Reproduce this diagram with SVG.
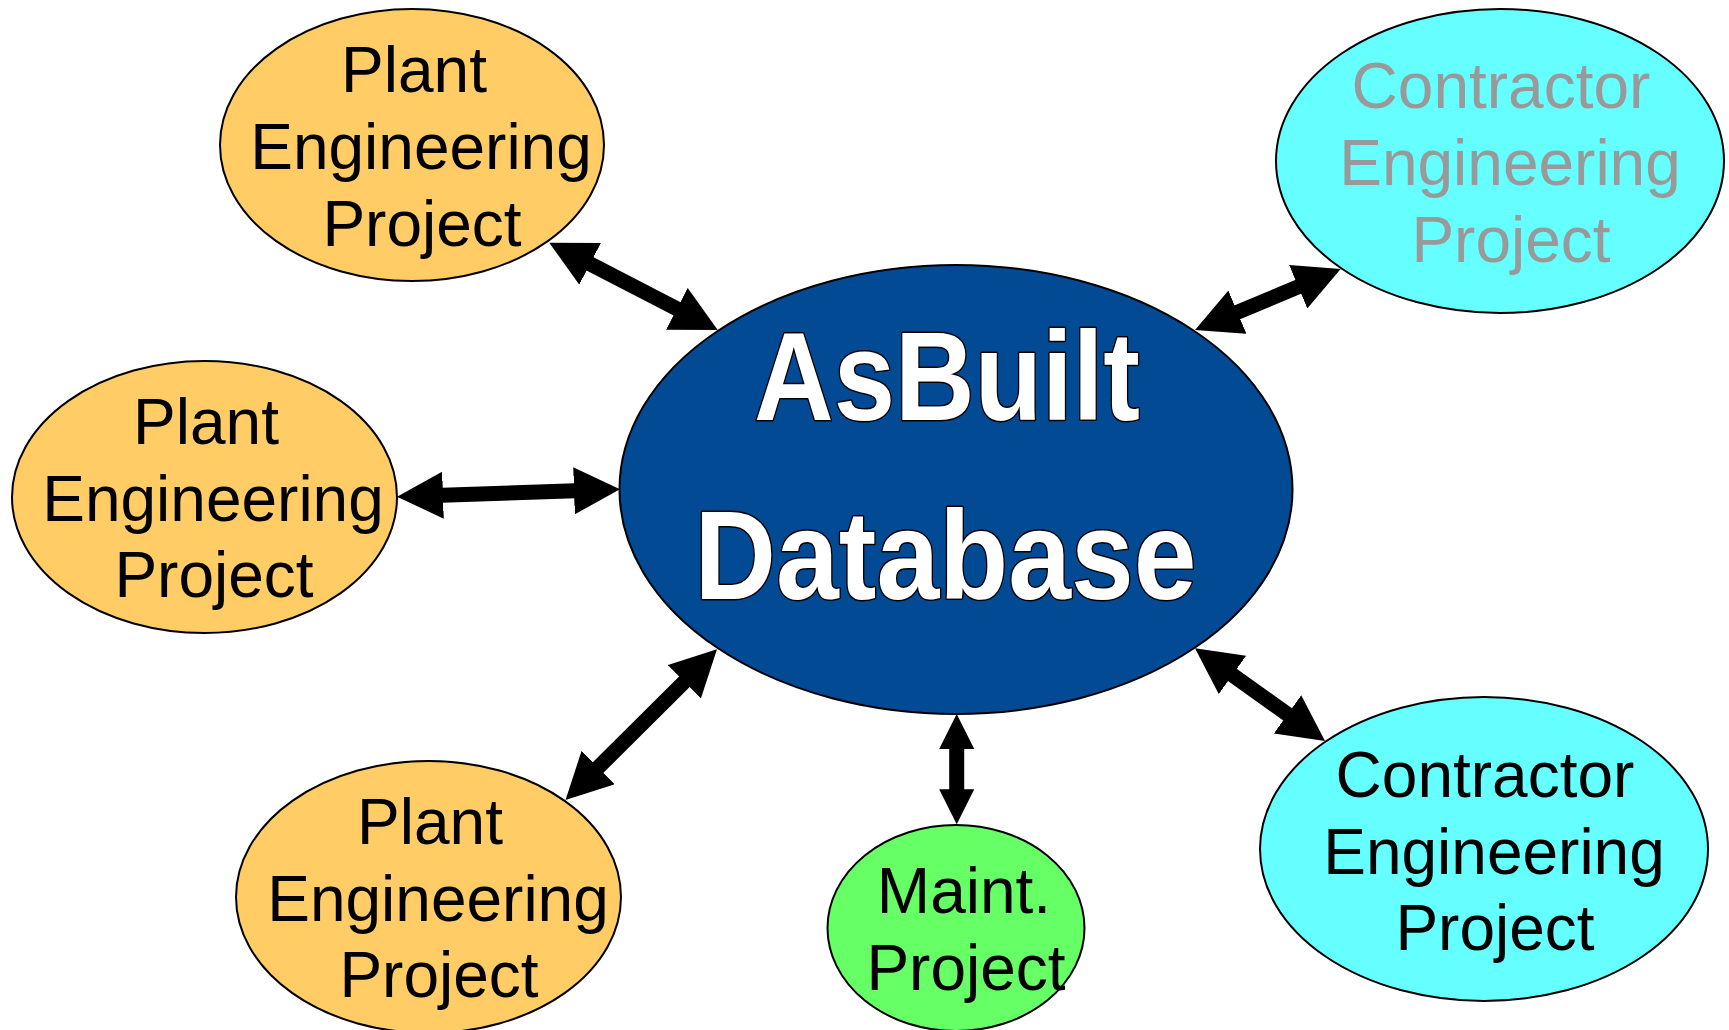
<svg xmlns="http://www.w3.org/2000/svg" width="1729" height="1030" viewBox="0 0 1729 1030">
<style>
.node{stroke:#000;stroke-width:2}
.plant{fill:#FFCC66}
.contr{fill:#66FFFF}
.maint{fill:#66FF66}
.db{fill:#024A94}
.lbl{font-family:"Liberation Sans",Arial,sans-serif;font-size:64px;text-anchor:middle;fill:#000}
.gray{fill:#999999}
.big{font-family:"Liberation Sans",Arial,sans-serif;font-weight:bold;font-size:126px;text-anchor:middle;fill:#fff;stroke:#000;stroke-width:3;paint-order:stroke;stroke-linejoin:round}
.conn{stroke:#000;stroke-width:15;fill:none}
</style>
<defs>
<marker id="ah" markerUnits="userSpaceOnUse" markerWidth="46" markerHeight="47" refX="16" refY="23.5" orient="auto-start-reverse" viewBox="0 0 46 47">
<path d="M0,0 L46,23.5 L0,47 z" fill="#000"/>
</marker>
<marker id="ahs" markerUnits="userSpaceOnUse" markerWidth="35" markerHeight="35" refX="12" refY="17.5" orient="auto-start-reverse" viewBox="0 0 35 35">
<path d="M0,0 L35,17.5 L0,35 z" fill="#000"/>
</marker>
</defs>
<rect width="1729" height="1030" fill="#fff"/>
<g id="node-plant-1">
<ellipse class="node plant" cx="412" cy="145" rx="192" ry="136"/>
<text class="lbl" x="414" y="92">Plant</text>
<text class="lbl" x="421" y="169">Engineering</text>
<text class="lbl" x="422" y="246">Project</text>
</g>
<g id="node-plant-2">
<ellipse class="node plant" cx="204.5" cy="497" rx="192.5" ry="136"/>
<text class="lbl" x="206" y="444">Plant</text>
<text class="lbl" x="213" y="520.5">Engineering</text>
<text class="lbl" x="214" y="597">Project</text>
</g>
<g id="node-plant-3">
<ellipse class="node plant" cx="428.5" cy="897" rx="192.5" ry="136"/>
<text class="lbl" x="430" y="844">Plant</text>
<text class="lbl" x="438" y="921">Engineering</text>
<text class="lbl" x="439" y="997">Project</text>
</g>
<g id="node-asbuilt">
<ellipse class="node db" cx="956" cy="489.5" rx="336.5" ry="224.5"/>
<text class="big" x="947" y="420" textLength="386" lengthAdjust="spacingAndGlyphs">AsBuilt</text>
<text class="big" x="945.5" y="599" textLength="502" lengthAdjust="spacingAndGlyphs">Database</text>
</g>
<g id="node-contractor-1">
<ellipse class="node contr" cx="1500" cy="161" rx="224" ry="152"/>
<text class="lbl gray" x="1501" y="108">Contractor</text>
<text class="lbl gray" x="1510" y="184.5">Engineering</text>
<text class="lbl gray" x="1511" y="261.5">Project</text>
</g>
<g id="node-contractor-2">
<ellipse class="node contr" cx="1484" cy="849" rx="224" ry="152"/>
<text class="lbl" x="1485" y="797">Contractor</text>
<text class="lbl" x="1494" y="873.5">Engineering</text>
<text class="lbl" x="1495" y="950">Project</text>
</g>
<g id="node-maint">
<ellipse class="node maint" cx="956" cy="928" rx="128.5" ry="103"/>
<text class="lbl" x="964" y="913">Maint.</text>
<text class="lbl" x="966" y="990">Project</text>
</g>
<g id="connectors">
<path class="conn" d="M575.9,256.5 L691.1,316.2" marker-start="url(#ah)" marker-end="url(#ah)"/>
<path class="conn" d="M427,495.7 L590,490.3" marker-start="url(#ah)" marker-end="url(#ah)"/>
<path class="conn" d="M586.8,778.8 L695.7,670.5" marker-start="url(#ah)" marker-end="url(#ah)"/>
<path class="conn" d="M956.7,737 L956.7,801.3" marker-start="url(#ahs)" marker-end="url(#ahs)"/>
<path class="conn" d="M1222.7,318.4 L1313,280.6" marker-start="url(#ah)" marker-end="url(#ah)"/>
<path class="conn" d="M1219.4,665.7 L1300.6,723.6" marker-start="url(#ah)" marker-end="url(#ah)"/>
</g>
</svg>
